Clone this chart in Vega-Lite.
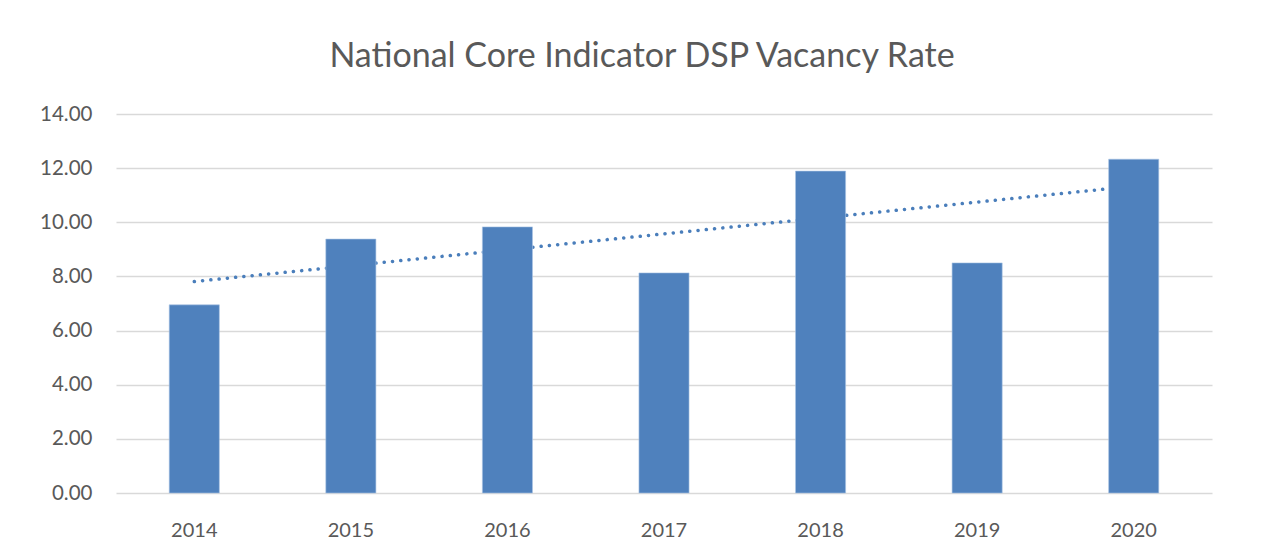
{
  "$schema": "https://vega.github.io/schema/vega-lite/v6.json",
  "autosize": {"type": "none"},
  "padding": {"left": 116, "top": 114, "right": 51, "bottom": 47},
  "width": 1096,
  "height": 379,
  "background": "white",
  "config": {
    "view": {"stroke": null},
    "font": "Lato"
  },
  "title": {
    "text": "National Core Indicator DSP Vacancy Rate",
    "fontSize": 34,
    "font": "Lato",
    "fontWeight": "normal",
    "color": "#595959",
    "anchor": "middle",
    "baseline": "alphabetic",
    "offset": 36,
    "dy": 33,
    "dx": -22
  },
  "data": {
    "values": [
      {"year": 2014, "rate": 6.95},
      {"year": 2015, "rate": 9.38},
      {"year": 2016, "rate": 9.83},
      {"year": 2017, "rate": 8.13},
      {"year": 2018, "rate": 11.89},
      {"year": 2019, "rate": 8.5},
      {"year": 2020, "rate": 12.33}
    ]
  },
  "encoding": {
    "x": {
      "field": "year",
      "type": "ordinal",
      "scale": {"paddingInner": 0.68, "paddingOuter": 0.34},
      "axis": {
        "title": null,
        "labelAngle": 0,
        "ticks": false,
        "domain": false,
        "labelFontSize": 20,
        "labelColor": "#595959",
        "labelPadding": 27,
        "labelBaseline": "top",
        "grid": false
      }
    },
    "y": {
      "field": "rate",
      "type": "quantitative",
      "scale": {"domain": [0, 14]},
      "axis": {
        "title": null,
        "values": [0, 2, 4, 6, 8, 10, 12, 14],
        "format": ".2f",
        "ticks": false,
        "domain": false,
        "labelFontSize": 20.5,
        "labelColor": "#595959",
        "labelPadding": 24,
        "gridColor": "#d9d9d9",
        "gridWidth": 1.5
      }
    }
  },
  "layer": [
    {
      "transform": [{"regression": "rate", "on": "year", "method": "linear"}],
      "mark": {"type": "line", "color": "#4a7ebb", "strokeWidth": 3.5, "strokeDash": [0.1, 8.2], "strokeCap": "round"},
      "encoding": {}
    },
    {
      "mark": {"type": "bar", "color": "#4f81bd", "stroke": "#a9c4e4", "strokeWidth": 0.6}
    }
  ]
}
